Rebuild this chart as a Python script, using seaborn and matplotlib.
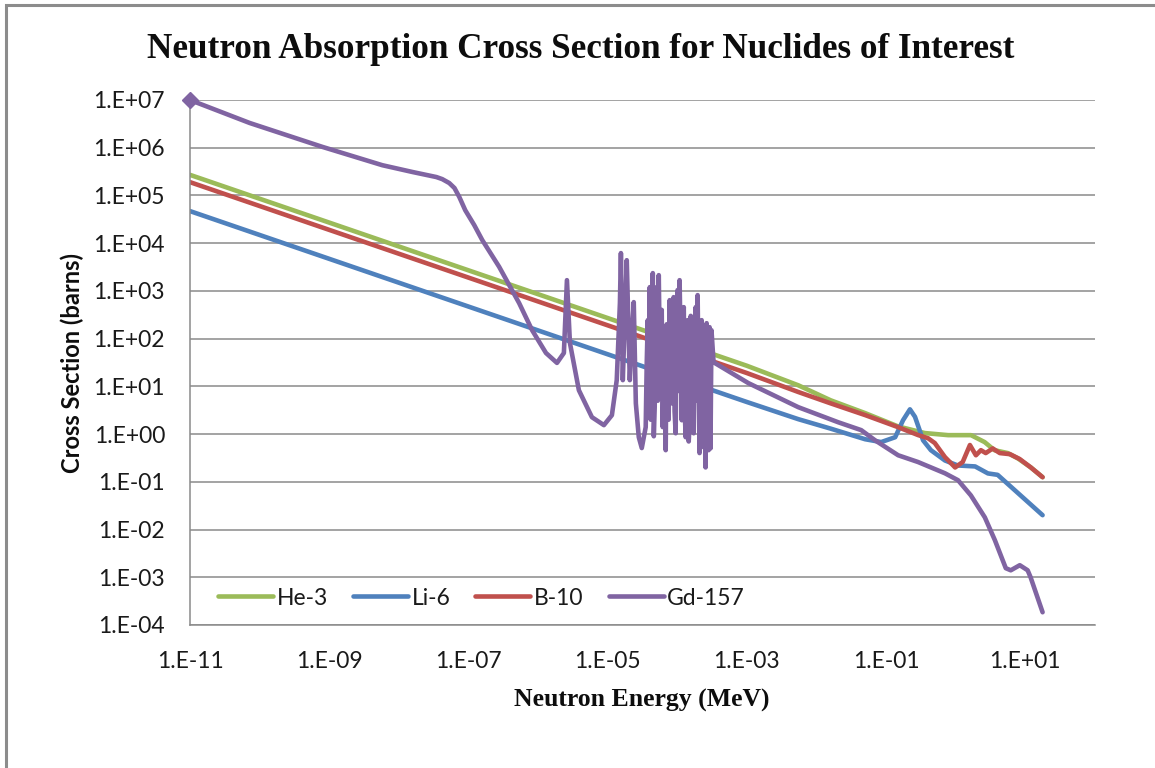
import numpy as np
import pandas as pd
import seaborn as sns
import matplotlib.pyplot as plt
from matplotlib.ticker import FixedLocator, FuncFormatter, NullLocator
from matplotlib.patches import Rectangle

# ---- data: neutron energy (MeV) and absorption cross section (barns) ----
nuclides = ["He-3", "Li-6", "B-10", "Gd-157"]
colors = ["#9BBB59", "#4F81BD", "#C0504D", "#8064A2"]

he3_e = [1e-11, 1e-7, 1e-3, 5.5e-3, 1.6e-2, 5.0e-2, 0.148, 0.36, 0.78, 1.66,
         2.6, 3.6, 5.6, 7.8, 12.0, 17.7]
he3_xs = [2.7e5, 2.7e3, 27.0, 10.5, 5.1, 2.75, 1.45, 1.05, 0.95, 0.95,
          0.68, 0.46, 0.40, 0.31, 0.20, 0.125]

li6_e = [1e-11, 1e-7, 1e-3, 5.5e-3, 1.6e-2, 5.0e-2, 8.5e-2, 0.135, 0.175, 0.22,
         0.26, 0.34, 0.44, 0.70, 1.07, 1.9, 2.9, 4.0, 17.7]
li6_xs = [4.7e4, 470.0, 4.7, 2.05, 1.3, 0.78, 0.68, 0.86, 1.95, 3.3,
          2.3, 0.74, 0.46, 0.28, 0.22, 0.21, 0.15, 0.14, 0.020]

b10_e = [1e-11, 1e-7, 1e-3, 5.5e-3, 1.6e-2, 5.0e-2, 0.148, 0.29, 0.40, 0.50,
         0.70, 0.98, 1.26, 1.6, 1.95, 2.3, 2.7, 3.4, 4.3, 6.0, 8.3, 12.0, 17.7]
b10_xs = [1.9e5, 1.9e3, 19.0, 7.6, 4.4, 2.5, 1.4, 0.95, 0.82, 0.65,
          0.33, 0.20, 0.26, 0.59, 0.36, 0.46, 0.40, 0.50, 0.40, 0.38, 0.30, 0.20, 0.125]

gd157_e = [1e-11, 7.2e-11, 8.0e-10, 5.8e-9, 1.57e-8, 3.46e-8, 4.2e-8, 5.3e-8, 6.3e-8,
           7.4e-8, 9.0e-8, 1.21e-7, 1.58e-7, 2.76e-7, 5.35e-7, 8.2e-7, 1.30e-6,
           1.87e-6, 2.35e-6, 2.60e-6, 2.87e-6, 3.86e-6, 5.94e-6, 8.83e-6, 1.15e-5,
           1.35e-5, 1.50e-5, 1.55e-5, 1.65e-5, 1.76e-5, 1.88e-5, 2.08e-5, 2.22e-5,
           2.37e-5, 2.54e-5, 2.80e-5, 3.09e-5,
           3.52e-5, 3.64e-5, 3.77e-5, 3.90e-5, 4.03e-5, 4.16e-5, 4.30e-5, 4.45e-5,
           4.60e-5, 4.74e-5, 4.90e-5, 5.07e-5, 5.25e-5, 5.42e-5, 5.60e-5, 5.78e-5,
           5.98e-5, 6.18e-5, 6.50e-5, 6.82e-5, 7.05e-5, 7.28e-5, 7.52e-5, 7.78e-5,
           8.05e-5, 8.32e-5, 8.60e-5, 8.87e-5, 9.15e-5, 9.48e-5, 9.80e-5, 1.01e-4,
           1.05e-4, 1.08e-4, 1.12e-4, 1.16e-4, 1.20e-4, 1.24e-4, 1.28e-4, 1.32e-4,
           1.36e-4, 1.41e-4, 1.46e-4, 1.51e-4, 1.56e-4, 1.61e-4, 1.66e-4, 1.72e-4,
           1.78e-4, 1.84e-4, 1.90e-4, 1.96e-4, 2.02e-4, 2.09e-4, 2.16e-4, 2.24e-4,
           2.31e-4, 2.39e-4, 2.47e-4, 2.55e-4, 2.64e-4, 2.73e-4, 2.82e-4, 2.91e-4,
           3.00e-4, 3.10e-4, 3.32e-4,
           1.05e-3, 5.48e-3, 2.05e-2, 4.39e-2, 6.95e-2, 0.149, 0.287, 0.70, 1.08,
           1.65, 2.62, 3.65, 5.24, 6.18, 8.32, 10.8, 11.9, 17.7]
gd157_xs = [1.0e7, 3.3e6, 1.04e6, 4.3e5, 3.1e5, 2.43e5, 2.2e5, 1.82e5, 1.43e5,
            9.25e4, 4.9e4, 2.4e4, 1.16e4, 3.2e3, 555.0, 151.0, 50.0,
            31.0, 50.0, 1.68e3, 81.0, 8.3, 2.26, 1.54, 2.49,
            13.5, 555.0, 6.2e3, 13.5, 244.0, 4.4e3, 13.5, 107.0,
            582.0, 4.4, 0.86, 0.51,
            1.40, 30.0, 244.0, 8.0, 1.2e3, 2.0, 35.0, 2.36e3,
            0.9, 3.7, 300.0, 1.2e3, 5.0, 2.14e3, 60.0, 21.9,
            400.0, 1.40, 150.0, 0.46, 200.0, 35.0, 2.0, 641.0,
            50.0, 4.4, 300.0, 741.0, 3.0, 1.04, 400.0, 1.04e3,
            8.0, 1.68e3, 60.0, 1.95, 120.0, 457.0, 3.0, 0.86,
            90.0, 244.0, 0.7, 1.95, 300.0, 151.0, 2.5, 1.04,
            200.0, 457.0, 5.0, 817.0, 20.0, 0.40, 100.0, 244.0,
            1.5, 0.53, 80.0, 0.20, 211.0, 1.0, 0.46, 174.0,
            0.5, 150.0, 32.0,
            11.7, 3.66, 1.77, 1.21, 0.74, 0.36, 0.26, 0.151, 0.108,
            0.052, 0.018, 6.0e-3, 1.55e-3, 1.40e-3, 1.79e-3, 1.40e-3, 1.0e-3, 1.85e-4]

x_tick_exps = [-11, -9, -7, -5, -3, -1, 1]
y_tick_exps = list(range(-4, 8))

title = "Neutron Absorption Cross Section for Nuclides of Interest"
x_label = "Neutron Energy (MeV)"
y_label = "Cross Section (barns)"

# ---- long-form table for seaborn ----
series = {"He-3": (he3_e, he3_xs), "Li-6": (li6_e, li6_xs),
          "B-10": (b10_e, b10_xs), "Gd-157": (gd157_e, gd157_xs)}
df = pd.concat(
    [pd.DataFrame({"Nuclide": name, "Energy": e, "XS": xs})
     for name, (e, xs) in series.items()],
    ignore_index=True,
)

sns.set_theme(style="white")
plt.rcParams["font.family"] = ["Lato", "DejaVu Sans"]

fig = plt.figure(figsize=(11.55, 7.68), dpi=100)
fig.patch.set_facecolor("white")
ax = fig.add_axes([0.1645, 0.1862, 0.7835, 0.6836])
ax.set_xscale("log")
ax.set_yscale("log")

grid_gray = "#8a8a8a"
lw = 3.3

sns.lineplot(data=df, x="Energy", y="XS", hue="Nuclide", hue_order=nuclides,
             palette=colors, sort=False, estimator=None, linewidth=lw,
             ax=ax, legend=True)
for line in ax.lines:
    line.set_solid_joinstyle("round")
    line.set_solid_capstyle("round")

# diamond marker on the first Gd-157 point
ax.plot(gd157_e[:1], gd157_xs[:1], marker="D", ms=8, color=colors[3],
        linestyle="none", clip_on=False, zorder=6)

ax.set_xlim(1e-11, 1e2)
ax.set_ylim(1e-4, 1e7)

ax.xaxis.set_major_locator(FixedLocator([10.0 ** k for k in x_tick_exps]))
ax.yaxis.set_major_locator(FixedLocator([10.0 ** k for k in y_tick_exps]))
ax.xaxis.set_minor_locator(NullLocator())
ax.yaxis.set_minor_locator(NullLocator())
fmt = FuncFormatter(lambda v, pos: f"1.E{int(round(np.log10(v))):+03d}")
ax.xaxis.set_major_formatter(fmt)
ax.yaxis.set_major_formatter(fmt)

ax.tick_params(axis="x", length=0, pad=19, labelsize=16.5, labelcolor="#1a1a1a")
ax.tick_params(axis="y", length=0, pad=18, labelsize=16.5, labelcolor="#1a1a1a")

ax.yaxis.grid(True, color=grid_gray, linewidth=1.1)
ax.xaxis.grid(False)
ax.set_axisbelow(True)
for side in ("top", "right"):
    ax.spines[side].set_visible(False)
for side in ("left", "bottom"):
    ax.spines[side].set_color(grid_gray)
    ax.spines[side].set_linewidth(1.1)

ax.set_xlabel("")
ax.set_ylabel("")

handles, labels = ax.get_legend_handles_labels()
ax.legend(handles[:4], labels[:4], ncol=4, loc="center left",
          bbox_to_anchor=(0.031, 0.0514), frameon=False, borderpad=0,
          borderaxespad=0, handlelength=2.4, handletextpad=0.15,
          columnspacing=1.1, fontsize=16.5, labelcolor="#1a1a1a")

fig.text(0.503, 1 - 58 / 768, title, ha="center", va="baseline",
         fontsize=25.3, fontweight="bold", family="Liberation Serif", color="#0d0d0d")
fig.text(642 / 1155, 1 - 707 / 768, x_label, ha="center", va="baseline",
         fontsize=18.5, fontweight="bold", family="Liberation Serif", color="#0d0d0d")
fig.text(72 / 1155, 1 - 363 / 768, y_label, ha="center", va="center", rotation=90,
         fontsize=17, fontweight="bold", color="#0d0d0d")

# chart-area frame
fig.patches.append(Rectangle((6 / 1155, -0.05), 1.2, (1 - 5 / 768) + 0.05,
                             transform=fig.transFigure, fill=False,
                             edgecolor="#8c8c8c", linewidth=2.2))

fig.savefig("out.png", dpi=100)
